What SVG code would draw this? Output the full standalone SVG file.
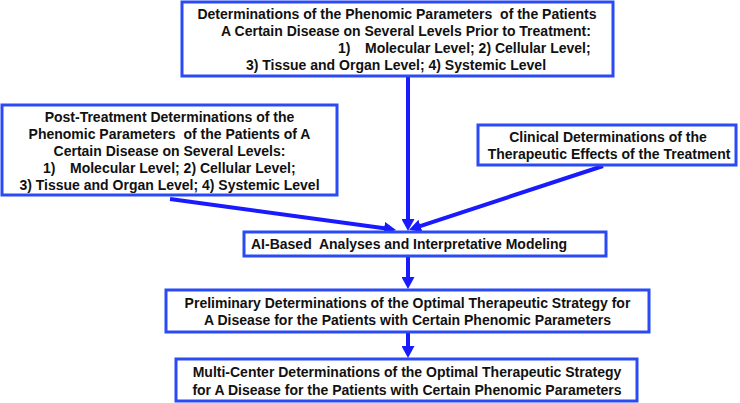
<svg xmlns="http://www.w3.org/2000/svg" width="740" height="403" viewBox="0 0 740 403" xml:space="preserve">
<defs>
<style>
.box{fill:#fff;stroke:#2a4af5;stroke-width:3}
.t{font-family:"Liberation Sans",Arial,sans-serif;font-weight:bold;font-size:14px;fill:#111;white-space:pre}
.m{text-anchor:middle}
.c{stroke:#1a1aff;stroke-width:4;fill:none;marker-end:url(#ah)}
</style>
<marker id="ah" markerUnits="userSpaceOnUse" markerWidth="13" markerHeight="13" refX="2" refY="6.5" orient="auto">
<path d="M0,0 L12,6.5 L0,13 z" fill="#1a1aff"/>
</marker>
</defs>
<rect width="740" height="403" fill="#fff"/>
<g id="connectors">
<line class="c" x1="408" y1="76" x2="408" y2="221"/>
<line class="c" x1="170" y1="199" x2="386.1" y2="228.6"/>
<line class="c" x1="603" y1="166" x2="418.6" y2="226.6"/>
<line class="c" x1="408" y1="256" x2="408" y2="279"/>
<line class="c" x1="408" y1="332" x2="408" y2="348"/>
</g>
<g id="pre">
<rect class="box" x="182" y="2" width="431" height="74"/>
<text class="t m" x="397" y="19">Determinations of the Phenomic Parameters  of the Patients</text>
<text class="t m" x="406" y="36">A Certain Disease on Several Levels Prior to Treatment:</text>
<text class="t" x="338" y="53">1)</text>
<text class="t" x="365" y="53">Molecular Level; 2) Cellular Level;</text>
<text class="t m" x="396" y="70">3) Tissue and Organ Level; 4) Systemic Level</text>
</g>
<g id="post">
<rect class="box" x="2" y="105" width="335" height="90"/>
<text class="t m" x="169.5" y="122">Post-Treatment Determinations of the</text>
<text class="t m" x="169.5" y="139">Phenomic Parameters  of the Patients of A</text>
<text class="t m" x="169.5" y="156">Certain Disease on Several Levels:</text>
<text class="t" x="43" y="173">1)</text>
<text class="t" x="70" y="173">Molecular Level; 2) Cellular Level;</text>
<text class="t m" x="169.5" y="190">3) Tissue and Organ Level; 4) Systemic Level</text>
</g>
<g id="clinical">
<rect class="box" x="478" y="125" width="258" height="40"/>
<text class="t m" x="608" y="142">Clinical Determinations of the</text>
<text class="t m" x="609" y="159">Therapeutic Effects of the Treatment</text>
</g>
<g id="ai">
<rect class="box" x="244" y="232" width="362" height="24"/>
<text class="t" x="251" y="249">AI-Based  Analyses and Interpretative Modeling</text>
</g>
<g id="prelim">
<rect class="box" x="166" y="290" width="483" height="42"/>
<text class="t m" x="407.5" y="308">Preliminary Determinations of the Optimal Therapeutic Strategy for</text>
<text class="t m" x="407.5" y="325">A Disease for the Patients with Certain Phenomic Parameters</text>
</g>
<g id="multi">
<rect class="box" x="176" y="359" width="461" height="42"/>
<text class="t m" x="407" y="377">Multi-Center Determinations of the Optimal Therapeutic Strategy</text>
<text class="t m" x="407" y="395">for A Disease for the Patients with Certain Phenomic Parameters</text>
</g>
</svg>
